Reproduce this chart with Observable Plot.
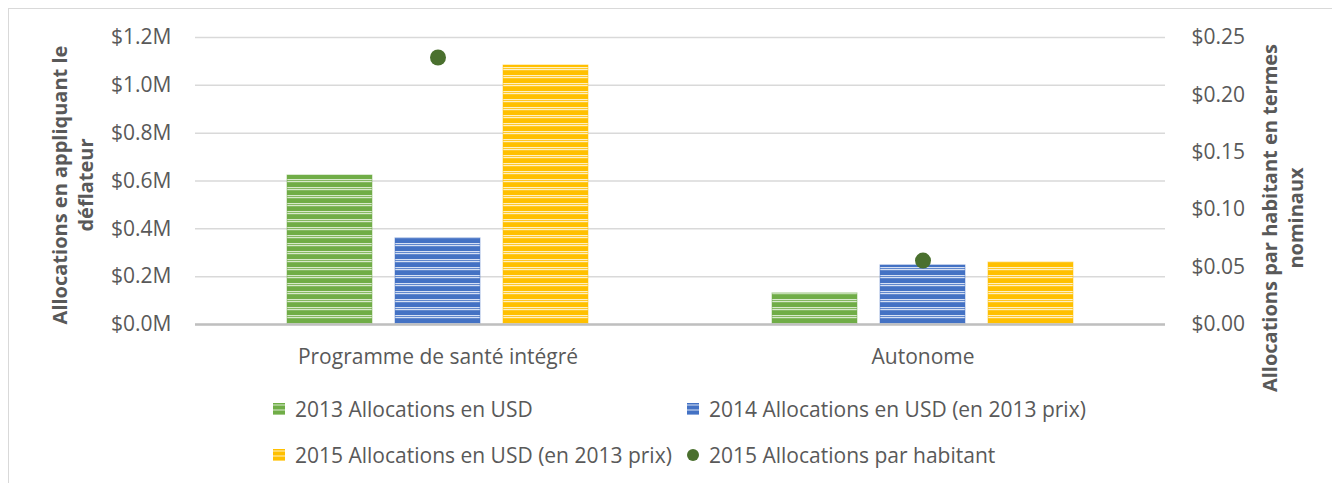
<!DOCTYPE html>
<html>
<head>
<meta charset="utf-8">
<script src="https://cdn.jsdelivr.net/npm/d3@7"></script>
<script src="https://cdn.jsdelivr.net/npm/@observablehq/plot@0.6"></script>
<style>
  html, body { margin: 0; padding: 0; background: #fff; }
  body { width: 1332px; height: 483px; position: relative; overflow: hidden; font-family: "Open Sans", sans-serif; color: #595959; }
  #frame { position: absolute; left: 8px; top: 8px; width: 1400px; height: 600px; border-left: 1.5px solid #d9d9d9; border-top: 1.5px solid #d9d9d9; }
  #chart { position: absolute; left: 0; top: 0; }
  .ytitle { position: absolute; font-weight: bold; font-size: 20px; color: #595959; text-align: center; line-height: 26px; white-space: nowrap; transform: translate(-50%, -50%) rotate(-90deg); }
  .legend-item { position: absolute; font-size: 21px; color: #595959; white-space: nowrap; display: flex; align-items: center; transform: translateY(-50%); }
  .legend-item svg { margin-right: 9px; }
</style>
</head>
<body>
<div id="frame"></div>
<div id="chart"></div>
<div class="ytitle" style="left:73px; top:185px;">Allocations en appliquant le<br>déflateur</div>
<div class="ytitle" style="left:1283px; top:218px;">Allocations par habitant en termes<br>nominaux</div>
<div id="legend"></div>
<script>
// ---- data ----
const categories = ["Programme de santé intégré", "Autonome"];
const seriesNames = [
  "2013 Allocations en USD",
  "2014 Allocations en USD (en 2013 prix)",
  "2015 Allocations en USD (en 2013 prix)"
];
const alloc2013 = [0.623, 0.130];   // $M
const alloc2014 = [0.360, 0.247];   // $M (2013 prices)
const alloc2015 = [1.083, 0.259];   // $M (2013 prices)
const perCapita2015 = [0.2326, 0.0557]; // $ per inhabitant
const dotLabel = "2015 Allocations par habitant";
const leftTicks = [0, 0.2, 0.4, 0.6, 0.8, 1.0, 1.2];
const rightTicks = [0, 0.05, 0.10, 0.15, 0.20, 0.25];

const colors = ["#70AD47", "#4472C4", "#FFC000"];
const lights = ["#d8e9cc", "#d6e0f3", "#fff0c4"];
const dotColor = "#4a702e";
const ratio = 1.2 / 0.25; // right axis to left axis

const barRows = [];
categories.forEach((c, i) => {
  [alloc2013, alloc2014, alloc2015].forEach((arr, j) => {
    barRows.push({cat: c, series: seriesNames[j], value: arr[i], idx: j});
  });
});
const dotRows = categories.map((c, i) => ({cat: c, series: seriesNames[1], value: perCapita2015[i] * ratio}));

const fmtLeft = d => "$" + d.toFixed(1) + "M";
const fmtRight = d => "$" + (d / ratio).toFixed(2);

const chart = Plot.plot({
  width: 1332,
  height: 372,
  marginLeft: 195,
  marginRight: 167,
  marginTop: 37,
  marginBottom: 48,
  style: {fontFamily: "Open Sans, sans-serif", fontSize: "21px", color: "#595959", background: "transparent"},
  fx: {domain: categories, padding: 0, label: null},
  x: {domain: seriesNames, paddingInner: 0.21, paddingOuter: 0.84, axis: null},
  y: {domain: [0, 1.2], label: null},
  marks: [
    Plot.gridY(leftTicks, {stroke: "#d9d9d9", strokeOpacity: 1, strokeWidth: 1.5}),
    Plot.axisFx({anchor: "bottom", tickSize: 0, tickPadding: 25, label: null, fontSize: 21}),
    Plot.axisY({ticks: leftTicks, tickFormat: fmtLeft, tickSize: 0, tickPadding: 24, label: null, fontSize: 21}),
    Plot.axisY({anchor: "right", ticks: rightTicks.map(v => v * ratio), tickFormat: fmtRight, tickSize: 0, tickPadding: 26, label: null, textAnchor: "start", fontSize: 21}),
    Plot.barY(barRows, {fx: "cat", x: "series", y: "value", fill: d => `url(#pat${d.idx})`, stroke: d => colors[d.idx], strokeOpacity: 0.5, strokeWidth: 1}),
    Plot.ruleY([0], {stroke: "#bfbfbf", strokeWidth: 2.5}),
    Plot.dot(dotRows, {fx: "cat", x: "series", y: "value", r: 8, fill: dotColor, stroke: "none"})
  ]
});

// stripe patterns
function addPatterns(svg, prefix) {
  const defs = d3.select(svg).insert("defs", ":first-child");
  colors.forEach((c, i) => {
    const p = defs.append("pattern").attr("id", prefix + i).attr("patternUnits", "userSpaceOnUse")
      .attr("width", 8).attr("height", 8);
    p.append("rect").attr("width", 8).attr("height", 8).attr("fill", c);
    p.append("rect").attr("y", 3).attr("width", 8).attr("height", 1.2).attr("fill", lights[i]);
    p.append("rect").attr("y", 5).attr("width", 8).attr("height", 1.2).attr("fill", lights[i]);
  });
}
addPatterns(chart, "pat");
document.getElementById("chart").appendChild(chart);

// legend
const legendItems = [
  {label: seriesNames[0], kind: "bar", idx: 0, x: 272, y: 409},
  {label: seriesNames[1], kind: "bar", idx: 1, x: 686, y: 409},
  {label: seriesNames[2], kind: "bar", idx: 2, x: 272, y: 455},
  {label: dotLabel, kind: "dot", x: 686, y: 455}
];
const legend = document.getElementById("legend");
legendItems.forEach(it => {
  const div = document.createElement("div");
  div.className = "legend-item";
  div.style.left = it.x + "px";
  div.style.top = it.y + "px";
  const ns = "http://www.w3.org/2000/svg";
  const s = document.createElementNS(ns, "svg");
  s.setAttribute("width", 14); s.setAttribute("height", 14);
  if (it.kind === "bar") {
    const defs = document.createElementNS(ns, "defs");
    s.appendChild(defs);
    const id = "lp" + it.idx;
    defs.innerHTML = `<pattern id="${id}" patternUnits="userSpaceOnUse" width="14" height="5"><rect width="14" height="5" fill="${colors[it.idx]}"/><rect y="2.5" width="14" height="1" fill="${lights[it.idx]}"/></pattern>`;
    const r = document.createElementNS(ns, "rect");
    r.setAttribute("x", 1); r.setAttribute("y", 1); r.setAttribute("width", 12); r.setAttribute("height", 12);
    r.setAttribute("fill", `url(#${id})`);
    s.appendChild(r);
  } else {
    const c = document.createElementNS(ns, "circle");
    c.setAttribute("cx", 7); c.setAttribute("cy", 7); c.setAttribute("r", 6);
    c.setAttribute("fill", dotColor);
    s.appendChild(c);
  }
  div.appendChild(s);
  const t = document.createElement("span");
  t.textContent = it.label;
  div.appendChild(t);
  legend.appendChild(div);
});
</script>
</body>
</html>
